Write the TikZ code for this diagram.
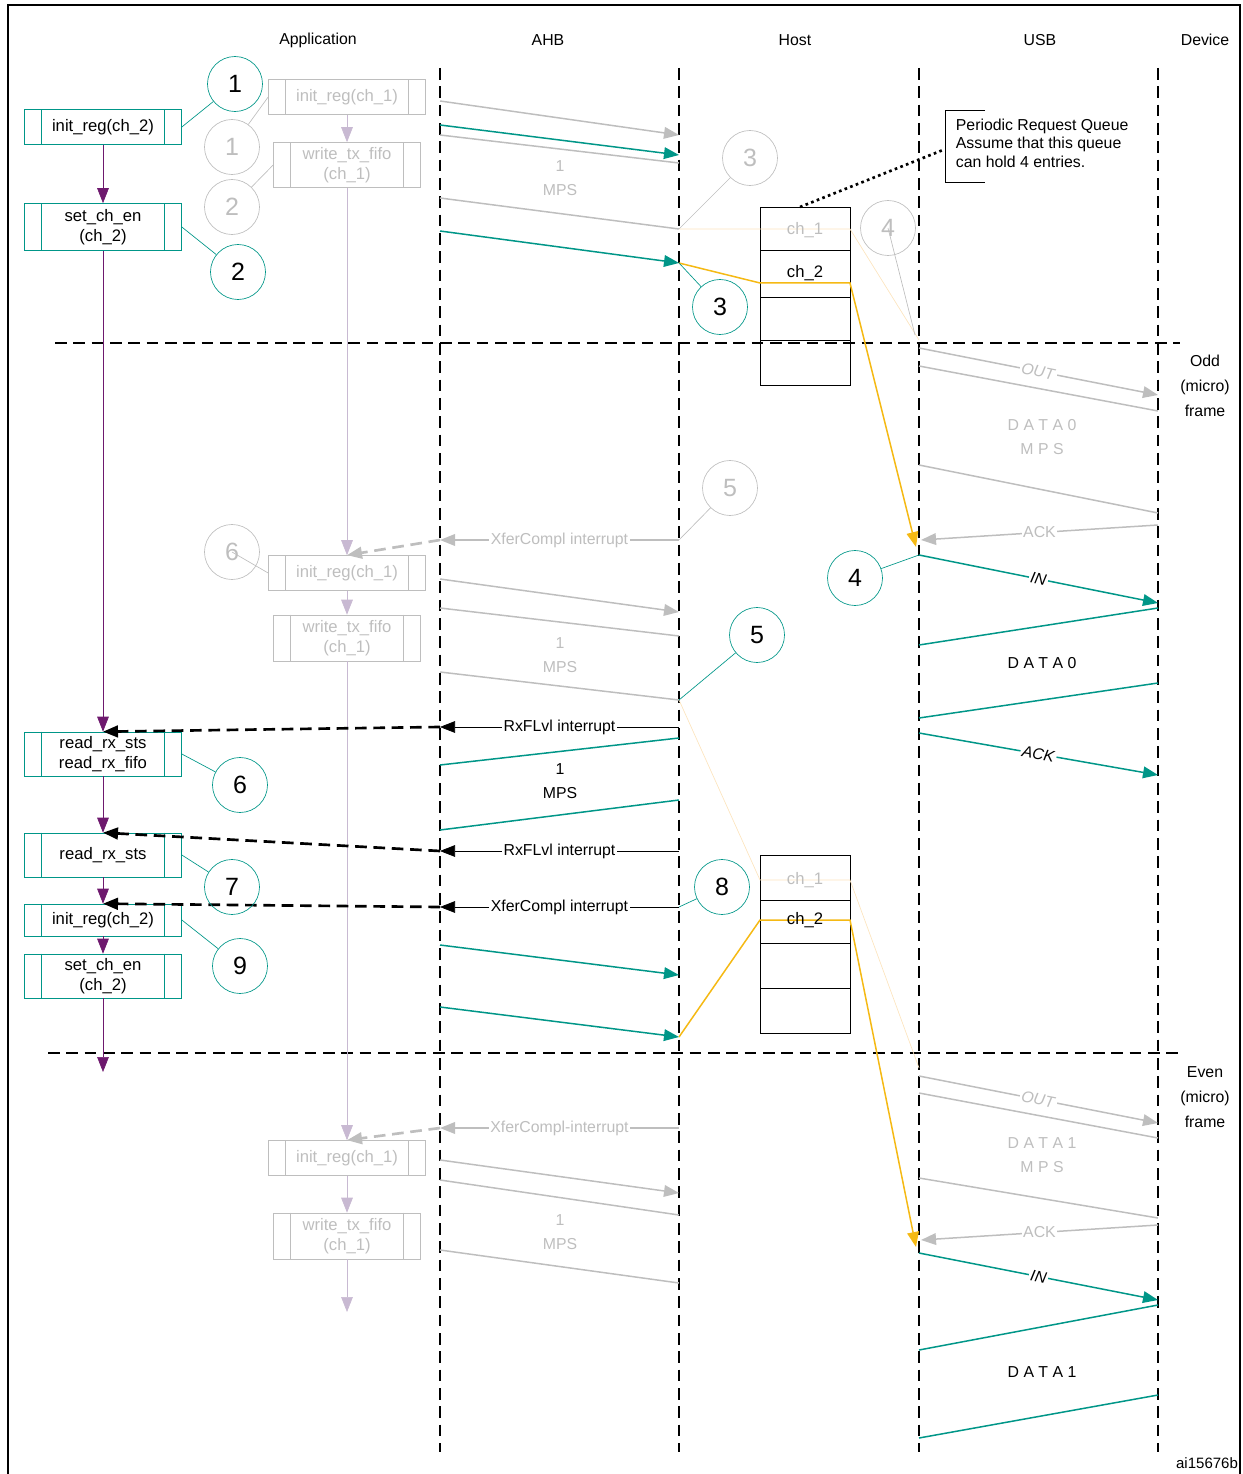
\documentclass[tikz,border=0pt]{standalone}
\usepackage{fontspec}
\setmainfont{Liberation Sans}
\usetikzlibrary{arrows.meta}
\definecolor{tl}{RGB}{0,150,136}
\definecolor{lg}{RGB}{190,190,190}
\definecolor{og}{RGB}{245,185,20}
\definecolor{fo}{RGB}{252,228,190}
\definecolor{pu}{RGB}{110,25,110}
\definecolor{lp}{RGB}{200,185,210}
\newcommand\pbox[7]{%
  \node[draw=#6,text=#7,minimum width=#4*0.6pt,minimum height=#5*0.6pt,inner sep=0pt,align=center,font=\fontsize{10}{12}\selectfont] (#1) at (#2,#3) {\strut};
  \draw[#6] ([xshift=10.5pt]#1.north west) -- ([xshift=10.5pt]#1.south west)
            ([xshift=-10.5pt]#1.north east) -- ([xshift=-10.5pt]#1.south east);
}
\begin{document}
\begin{tikzpicture}[x=0.6pt,y=-0.6pt,
  lane/.style={black,line width=1.4pt,dash pattern=on 7pt off 4pt},
  dsh/.style={line width=1.6pt,dash pattern=on 7pt off 4pt},
  tc/.style={circle,draw=tl,minimum size=33pt,inner sep=0pt,font=\fontsize{15}{15}\selectfont},
  gc/.style={circle,draw=lg,text=lg,minimum size=33pt,inner sep=0pt,font=\fontsize{15}{15}\selectfont},
  bt/.style={font=\fontsize{10}{12}\selectfont,align=center},
  lbl/.style={font=\fontsize{9.5}{14}\selectfont,align=center},
  tip/.style={-{Triangle[length=9pt,width=7pt]}},
  tm/.style={tl,line width=0.9pt},
  gm/.style={lg,line width=0.9pt},
  ilbl/.style={fill=white,inner sep=1pt,font=\fontsize{9.5}{11}\selectfont}]
\useasboundingbox (0,0) rectangle (1242,1474);
\draw[line width=1pt] (8,1474) -- (8,5) -- (1240,5) -- (1240,1474);
% headers
\foreach \x/\t in {318/Application,548/AHB,795/Host,1040/USB,1205/Device}
  \node[lbl] at (\x,40) {\t};
% lanes
\foreach \x in {440,679,919,1158} \draw[lane] (\x,68) -- (\x,1452);
\draw[lane] (55,343) -- (1180,343);
\draw[lane] (48,1053) -- (1180,1053);
\node[lbl,align=center] at (1205,386) {Odd\\[1pt](micro)\\[1pt]frame};
\node[lbl,align=center] at (1205,1097) {Even\\[1pt](micro)\\[1pt]frame};
\node[font=\fontsize{9}{10}\selectfont] at (1207,1463) {ai15676b};
% teal application boxes
\pbox{a1}{103}{127}{157}{35}{tl}{black}\node[bt] at (a1) {init\_reg(ch\_2)};
\pbox{a2}{103}{227}{157}{47}{tl}{black}\node[bt] at (a2) {set\_ch\_en\\(ch\_2)};
\pbox{a3}{103}{754}{157}{44}{tl}{black}\node[bt] at (a3) {read\_rx\_sts\\read\_rx\_fifo};
\pbox{a4}{103}{855}{157}{44}{tl}{black}\node[bt] at (a4) {read\_rx\_sts};
\pbox{a5}{103}{920}{157}{32}{tl}{black}\node[bt] at (a5) {init\_reg(ch\_2)};
\pbox{a6}{103}{976}{157}{44}{tl}{black}\node[bt] at (a6) {set\_ch\_en\\(ch\_2)};
\coordinate (aend) at (103,1072);
\draw[pu,tip] (a1) -- (a2);
\draw[pu,tip] (a2) -- (a3);
\draw[pu,tip] (a3) -- (a4);
\draw[pu,tip] (a4) -- (a5);
\draw[pu,tip] (a5) -- (a6);
\draw[pu,tip] (a6) -- (aend);
% gray application boxes
\pbox{g1}{347}{97}{157}{35}{lg}{lg}\node[bt,text=lg] at (g1) {init\_reg(ch\_1)};
\pbox{g2}{347}{165}{147}{45}{lg}{lg}\node[bt,text=lg] at (g2) {write\_tx\_fifo\\(ch\_1)};
\pbox{g3}{347}{573}{157}{35}{lg}{lg}\node[bt,text=lg] at (g3) {init\_reg(ch\_1)};
\pbox{g4}{347}{638}{147}{46}{lg}{lg}\node[bt,text=lg] at (g4) {write\_tx\_fifo\\(ch\_1)};
\pbox{g5}{347}{1158}{157}{35}{lg}{lg}\node[bt,text=lg] at (g5) {init\_reg(ch\_1)};
\pbox{g6}{347}{1236}{147}{46}{lg}{lg}\node[bt,text=lg] at (g6) {write\_tx\_fifo\\(ch\_1)};
\coordinate (gend) at (347,1312);
\draw[lp,tip] (g1) -- (g2);
\draw[lp,tip] (g2) -- (g3);
\draw[lp,tip] (g3) -- (g4);
\draw[lp,tip] (g4) -- (g5);
\draw[lp,tip] (g5) -- (g6);
\draw[lp,tip] (g6) -- (gend);
% queues
\draw (760,207) rectangle (850,385);
\draw (760,855) rectangle (850,1033);
\draw (760,250) -- (850,250) (760,297) -- (850,297) (760,340) -- (850,340);
\draw (760,900) -- (850,900) (760,943) -- (850,943) (760,988) -- (850,988);
% faint orange paths
\draw[fo] (679,229) -- (850,229) -- (919,340);
\draw[fo] (679,700) -- (760,880) -- (850,880) -- (919,1068);
\node[bt,text=lg] at (805,230) {ch\_1};
\node[bt,text=lg] at (805,880) {ch\_1};
% orange paths
\draw[og,line width=0.9pt,tip] (679,263) -- (760,283) -- (850,283) -- (916,547);
\draw[og,line width=0.9pt,tip] (679,1037) -- (760,920) -- (850,920) -- (916,1247);
\node[bt] at (805,273) {ch\_2};
\node[bt] at (805,920) {ch\_2};
% note
\draw (985,110) -- (945,110) -- (945,182) -- (985,182);
\node[font=\fontsize{9.5}{11}\selectfont,align=left,anchor=north west] at (950,113) {Periodic Request Queue\\Assume that this queue\\can hold 4 entries.};
\draw[line width=1.6pt,dotted] (800,207) -- (943,150);
% AHB top
\draw[gm,tip] (440,101) -- (679,135);
\draw[tm,tip] (440,125) -- (679,155);
\draw[gm] (440,135) -- (679,163);
\node[lbl,text=lg] at (560,178) {1\\MPS};
\draw[gm] (440,198) -- (679,229);
\draw[tm,tip] (440,231) -- (679,263);
% USB odd
\draw[gm,tip] (919,348) -- node[ilbl,text=lg,sloped]{\textit{OUT}} (1158,395);
\draw[gm] (919,366) -- (1158,411);
\node[lbl,text=lg] at (1042,437) {D A T A 0\\M P S};
\draw[gm] (919,465) -- (1158,513);
\draw[gm,tip] (1158,525) -- node[ilbl,text=lg]{ACK} (921,540);
\draw[tm,tip] (919,555) -- node[ilbl,sloped,text=black]{\textit{IN}} (1158,603);
\draw[tm] (919,645) -- (1158,608);
\node[lbl] at (1042,663) {D A T A 0};
\draw[tm] (919,718) -- (1158,683);
\draw[tm,tip] (919,733) -- node[ilbl,sloped,text=black]{\textit{ACK}} (1158,775);
% AHB middle
\coordinate (xg1) at (440,540);
\draw[gm,tip] (679,540) -- node[ilbl,text=lg]{XferCompl interrupt} (xg1);
\draw[lg,dsh,tip] (xg1) -- (g3.north);
\draw[gm,tip] (440,579) -- (679,612);
\draw[gm] (440,608) -- (679,636);
\node[lbl,text=lg] at (560,655) {1\\MPS};
\draw[gm] (440,672) -- (679,700);
\coordinate (r1) at (440,727);
\draw[black,tip] (679,727) -- node[ilbl]{RxFLvl interrupt} (r1);
\draw[black,dsh,tip] (r1) -- (a3.north);
\draw[tm] (440,765) -- (679,738);
\node[lbl] at (560,781) {1\\MPS};
\draw[tm] (440,830) -- (679,800);
\coordinate (r2) at (440,851);
\draw[black,tip] (679,851) -- node[ilbl]{RxFLvl interrupt} (r2);
\draw[black,dsh,tip] (r2) -- (a4.north);
\coordinate (r3) at (440,907);
\draw[black,tip] (679,907) -- node[ilbl]{XferCompl interrupt} (r3);
\draw[black,dsh,tip] (r3) -- (a5.north);
\draw[tm,tip] (440,945) -- (679,975);
\draw[tm,tip] (440,1007) -- (679,1037);
% AHB bottom
\coordinate (xg2) at (440,1128);
\draw[gm,tip] (679,1128) -- node[ilbl,text=lg]{XferCompl-interrupt} (xg2);
\draw[lg,dsh,tip] (xg2) -- (g5.north);
\draw[gm,tip] (440,1160) -- (679,1193);
\draw[gm] (440,1180) -- (679,1215);
\node[lbl,text=lg] at (560,1232) {1\\MPS};
\draw[gm] (440,1250) -- (679,1283);
% USB even
\draw[gm,tip] (919,1076) -- node[ilbl,text=lg,sloped]{\textit{OUT}} (1158,1123);
\draw[gm] (919,1093) -- (1158,1138);
\node[lbl,text=lg] at (1042,1155) {D A T A 1\\M P S};
\draw[gm] (919,1178) -- (1158,1218);
\draw[gm,tip] (1158,1225) -- node[ilbl,text=lg]{ACK} (921,1240);
\draw[tm,tip] (919,1253) -- node[ilbl,sloped,text=black]{\textit{IN}} (1158,1300);
\draw[tm] (919,1350) -- (1158,1305);
\node[lbl] at (1042,1372) {D A T A 1};
\draw[tm] (919,1438) -- (1158,1395);
% circles
\node[tc,fill=white] (c1) at (235,84) {1};
\node[gc,fill=white] (k1) at (232,147) {1};
\node[gc,fill=white] (k2) at (232,207) {2};
\node[tc,fill=white] (c2) at (238,272) {2};
\node[gc] (k3) at (750,158) {3};
\node[tc,fill=white] (c3) at (720,307) {3};
\node[gc] (k4) at (888,228) {4};
\node[gc] (k5) at (730,488) {5};
\node[gc] (k6) at (232,552) {6};
\node[tc] (c4) at (855,578) {4};
\node[tc] (c5) at (757,635) {5};
\node[tc] (c6) at (240,785) {6};
\node[tc] (c7) at (232,887) {7};
\node[tc,fill=white] (c8) at (722,887) {8};
\node[tc] (c9) at (240,966) {9};
\draw[tl] (a1.east) -- (c1);
\draw[lg] (g1.west) -- (k1);
\draw[lg] (g2.west) -- (k2);
\draw[tl] (a2.east) -- (c2);
\draw[lg] (679,229) -- (k3);
\draw[tl] (679,263) -- (c3);
\draw[lg] (k4.center) -- (915,335);
\draw[lg] (679,540) -- (k5);
\draw[lg] (k6.center) -- (g3.west);
\draw[tl] (919,555) -- (c4);
\draw[tl] (679,700) -- (c5);
\draw[tl] (a3.east) -- (c6);
\draw[tl] (a4.east) -- (c7);
\draw[tl] (679,907) -- (c8);
\draw[tl] (a5.east) -- (c9);
\end{tikzpicture}
\end{document}
